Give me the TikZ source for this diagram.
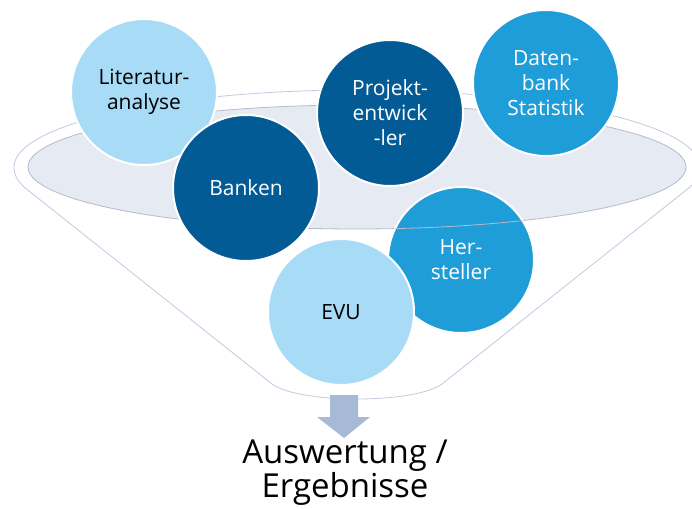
\documentclass[tikz,border=0pt]{standalone}
\usepackage{fontspec}
\setmainfont{Open Sans}
\definecolor{lightb}{HTML}{A7DBF6}
\definecolor{darkb}{HTML}{035B96}
\definecolor{midb}{HTML}{1E9DD9}
\definecolor{rim}{HTML}{C3CAE0}
\definecolor{rimfill}{HTML}{E6EAF3}
\definecolor{arrowc}{HTML}{A8B9D8}
\tikzset{
  bubble/.style={circle, draw=white, line width=2pt, minimum size=146pt, inner sep=0pt, align=center, font=\fontsize{21}{25}\selectfont},
  lightbubble/.style={bubble, fill=lightb, text=black},
  darkbubble/.style={bubble, fill=darkb, text=white},
  midbubble/.style={bubble, fill=midb, text=white},
  funnelline/.style={draw=rim, line width=0.8pt},
}
\begin{document}
\begin{tikzpicture}[x=1pt,y=-1pt]
\useasboundingbox (0,0) rectangle (692,508);
\clip (0,0) rectangle (692,508);
% funnel body
\path[funnelline, fill=white] (14,167) .. controls (14,175) and (17,180) .. (24,187)
  -- (272,384) .. controls (300,404) and (414,404) .. (442,384)
  -- (690,187) .. controls (697,180) and (700,175) .. (700,167)
  arc[start angle=0, end angle=-180, x radius=343, y radius=77] -- cycle;
% inner rim
\path[draw=rim!80!gray, line width=0.8pt, fill=rimfill] (357,167) ellipse[x radius=329, y radius=62];
% arrow
\path[fill=arrowc] (330,395) -- (358,395) -- (358,417) -- (370,417) -- (344,438) -- (317,417) -- (330,417) -- cycle;
% bubbles
\node[lightbubble] (lit) at (144,92) {Literatur-\\analyse};
\node[darkbubble] (bank) at (246,188) {Banken};
\node[darkbubble] (proj) at (390,113) {Projekt-\\entwick\\-ler};
\node[midbubble] (db) at (546,83) {Daten-\\bank\\Statistik};
\node[midbubble] (her) at (461,260) {Her-\\steller};
\begin{scope}
  \clip (her.center) circle[radius=73pt];
  \draw[rim!80!gray, line width=0.8pt] (357,167) ellipse[x radius=329, y radius=62];
\end{scope}
\node[lightbubble] (evu) at (341,312) {EVU};
% result text
\node[align=center, font=\fontsize{33}{29}\selectfont, anchor=base] (res) at (345,497) {Auswertung /\\Ergebnisse};
\end{tikzpicture}
\end{document}
